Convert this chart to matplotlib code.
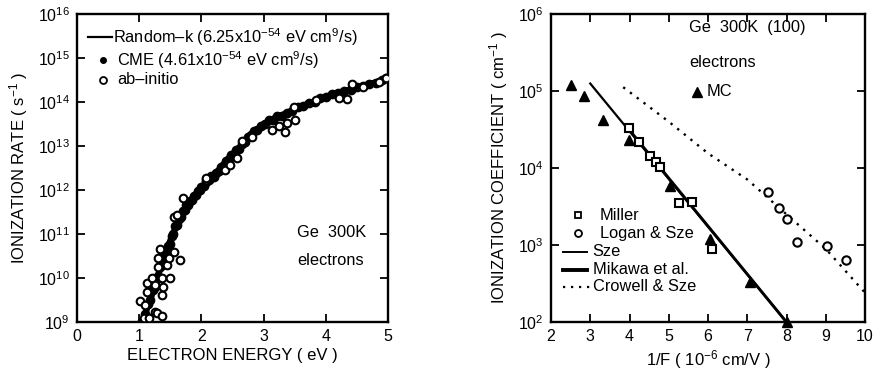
import numpy as np
import matplotlib
matplotlib.use("Agg")
import matplotlib.pyplot as plt
from matplotlib.ticker import FixedLocator, NullLocator, FuncFormatter

plt.rcParams['font.family'] = ['Liberation Sans', 'DejaVu Sans']
plt.rcParams['mathtext.fontset'] = 'custom'
plt.rcParams['mathtext.rm'] = 'Liberation Sans'
plt.rcParams['mathtext.it'] = 'Liberation Sans:italic'
plt.rcParams['mathtext.bf'] = 'Liberation Sans:bold'

# ---------------- Left panel data: ionization rate vs electron energy ----------------
randk_E = [1.05, 1.2, 1.3, 1.4, 1.5, 1.6, 1.7, 1.8, 2.0, 2.2, 2.4, 2.6, 2.8, 3.0, 3.2, 3.4, 3.6, 3.8, 4.0, 4.3, 4.6, 5.0]
randk_log = [9.0, 9.6, 10.05, 10.45, 10.85, 11.2, 11.5, 11.7, 12.05, 12.3, 12.65, 12.95, 13.25, 13.5, 13.65, 13.76, 13.9, 14.0, 14.12, 14.25, 14.37, 14.52]

cme_E = [1.05, 1.10, 1.14, 1.18, 1.22, 1.25, 1.28, 1.31, 1.34, 1.37, 1.40, 1.43, 1.46, 1.49,
         1.52, 1.55, 1.58, 1.61, 1.64, 1.67, 1.70, 1.73, 1.76, 1.79, 1.82, 1.85, 1.88, 1.91,
         1.94, 1.97, 2.00, 2.04, 2.08, 2.12, 2.16, 2.20, 2.24, 2.28, 2.32, 2.36, 2.40, 2.44,
         2.48, 2.52, 2.56, 2.60, 2.65, 2.70, 2.75, 2.80, 2.85, 2.90, 2.96, 3.02, 3.08, 3.15,
         3.22, 3.30, 3.38, 3.46, 3.55, 3.64, 3.73, 3.82, 3.91, 4.00, 4.10, 4.20, 4.30, 4.40,
         4.50, 4.60, 4.70, 4.80, 4.90, 4.97]
cme_log = [9.02, 9.18, 9.40, 9.50, 9.72, 9.80, 9.98, 10.05, 10.25, 10.30, 10.48, 10.55, 10.72, 10.78,
           10.95, 11.00, 11.18, 11.20, 11.35, 11.38, 11.52, 11.55, 11.65, 11.66, 11.76, 11.78, 11.87, 11.88,
           11.97, 11.99, 12.07, 12.10, 12.19, 12.22, 12.31, 12.30, 12.38, 12.43, 12.53, 12.57, 12.67, 12.70,
           12.79, 12.82, 12.91, 12.94, 13.05, 13.08, 13.20, 13.24, 13.33, 13.36, 13.46, 13.50, 13.58, 13.60,
           13.68, 13.69, 13.76, 13.80, 13.88, 13.91, 13.98, 14.00, 14.08, 14.11, 14.18, 14.20, 14.26, 14.28,
           14.35, 14.36, 14.42, 14.43, 14.50, 14.55]

abin_E = [1.01, 1.07, 1.09, 1.12, 1.12, 1.15, 1.20, 1.25, 1.25, 1.28, 1.30, 1.31, 1.33, 1.36, 1.36,
          1.36, 1.39, 1.44, 1.48, 1.49, 1.56, 1.56, 1.65, 1.70, 1.60, 2.07, 2.08, 2.38, 2.46, 2.57,
          2.65, 2.81, 3.13, 3.24, 3.34, 3.37, 3.49, 3.50, 3.85, 4.22, 4.34, 4.42, 4.60, 4.85, 4.97]
abin_log = [9.48, 9.08, 9.39, 9.69, 9.88, 9.08, 9.99, 9.84, 9.23, 9.20, 10.26, 10.45, 10.67, 9.99, 9.61,
            9.14, 9.80, 10.30, 10.45, 9.99, 10.60, 11.39, 10.42, 11.81, 11.43, 12.23, 12.27, 12.45, 12.57, 12.72,
            13.12, 13.20, 13.36, 13.45, 13.31, 13.52, 13.89, 13.59, 14.05, 14.08, 14.07, 14.42, 14.35, 14.45, 14.55]

left_xticks = [0, 1, 2, 3, 4, 5]
left_yexp = [9, 10, 11, 12, 13, 14, 15, 16]

# ---------------- Right panel data: ionization coefficient vs 1/F ----------------
mc_x = [2.51, 2.85, 3.33, 3.99, 5.03, 6.05, 7.07, 8.0]
mc_y = [1.2e5, 8.5e4, 4.2e4, 2.3e4, 5.9e3, 1.2e3, 3.3e2, 1.0e2]

miller_x = [3.99, 4.24, 4.52, 4.68, 4.78, 5.27, 5.58, 6.09]
miller_y = [3.3e4, 2.2e4, 1.43e4, 1.2e4, 1.02e4, 3.5e3, 3.6e3, 8.9e2]

logan_x = [7.52, 7.81, 8.0, 8.26, 9.02, 9.51]
logan_y = [4.9e3, 3.0e3, 2.15e3, 1.08e3, 9.8e2, 6.4e2]

sze_x = [3.0, 8.0]
sze_y = [1.25e5, 1.0e2]
mikawa_x = [4.0, 7.95]
mikawa_y = [3.1e4, 1.07e2]
crowell_x = [3.84, 5.0, 6.0, 7.0, 8.0, 9.0, 10.0]
crowell_y = [1.12e5, 4.0e4, 1.55e4, 7.1e3, 2.5e3, 8.9e2, 2.4e2]

right_xticks = [2, 3, 4, 5, 6, 7, 8, 9, 10]
right_yexp = [2, 3, 4, 5, 6]

# ---------------- Figure ----------------
W, H = 875, 373
fig = plt.figure(figsize=(W / 100, H / 100), dpi=100)
axL = fig.add_axes([77 / W, 1 - 322 / H, (388 - 77) / W, (322 - 14) / H])
axR = fig.add_axes([551 / W, 1 - 322 / H, (865 - 551) / W, (322 - 14) / H])

expfmt = FuncFormatter(lambda v, p: r'$10^{%d}$' % int(round(np.log10(v))))


def style(ax, xt, yexp):
    ax.set_yscale('log')
    ax.xaxis.set_major_locator(FixedLocator(xt))
    ax.yaxis.set_major_locator(FixedLocator([10.0 ** e for e in yexp]))
    ax.yaxis.set_minor_locator(NullLocator())
    ax.xaxis.set_minor_locator(NullLocator())
    ax.yaxis.set_major_formatter(expfmt)
    ax.tick_params(direction='in', length=6, width=1.3, top=True, right=True,
                   labelsize=11.5, pad=5, colors='black')
    for s in ax.spines.values():
        s.set_linewidth(1.7)


# Left panel
axL.plot(randk_E, [10.0 ** v for v in randk_log], color='black', lw=4.5, zorder=2,
         solid_capstyle='round')
axL.plot(cme_E, [10.0 ** v for v in cme_log], 'o', color='black', ms=6, zorder=3)
axL.plot(abin_E, [10.0 ** v for v in abin_log], 'o', mfc='white', mec='black', mew=1.5, ms=5.5, zorder=4)
axL.set_xlim(0, 5)
axL.set_ylim(1e9, 1e16)
style(axL, left_xticks, left_yexp)
axL.set_xlabel('ELECTRON ENERGY ( eV )', fontsize=12, labelpad=3)
axL.set_ylabel(r'IONIZATION RATE ( s$^{-1}$ )', fontsize=12, labelpad=6)

tf = dict(fontsize=11.8, transform=axL.transAxes, va='center', ha='left')
axL.plot([0.035, 0.113], [0.925, 0.925], color='black', lw=1.6, transform=axL.transAxes, clip_on=False)
axL.text(0.116, 0.925, r'Random–k (6.25x10$^{-54}$ eV cm$^{9}$/s)', **tf)
axL.plot([0.085], [0.851], 'o', color='black', ms=4, transform=axL.transAxes)
axL.text(0.129, 0.851, r'CME (4.61x10$^{-54}$ eV cm$^{9}$/s)', **tf)
axL.plot([0.085], [0.786], 'o', mfc='white', mec='black', mew=1.3, ms=5, transform=axL.transAxes)
axL.text(0.129, 0.786, 'ab–initio', **tf)
axL.text(0.707, 0.289, 'Ge  300K', **tf)
axL.text(0.707, 0.201, 'electrons', **tf)

# Right panel
axR.plot(sze_x, sze_y, color='black', lw=1.6, zorder=2)
axR.plot(mikawa_x, mikawa_y, color='black', lw=2.1, zorder=2)
axR.plot(crowell_x, crowell_y, color='black', lw=1.7, ls=(0, (1, 2.6)), zorder=2)
axR.plot(mc_x, mc_y, '^', color='black', ms=7, zorder=3, clip_on=False)
axR.plot(miller_x, miller_y, 's', mfc='white', mec='black', mew=1.5, ms=6, zorder=4)
axR.plot(logan_x, logan_y, 'o', mfc='white', mec='black', mew=1.5, ms=6, zorder=4)
axR.set_xlim(2, 10)
axR.set_ylim(1e2, 1e6)
style(axR, right_xticks, right_yexp)
axR.set_xlabel(r'1/F ( 10$^{-6}$ cm/V )', fontsize=12, labelpad=3)
axR.set_ylabel(r'IONIZATION COEFFICIENT ( cm$^{-1}$ )', fontsize=12, labelpad=6)

tr = dict(fontsize=11.8, transform=axR.transAxes, va='center', ha='left')
axR.text(0.44, 0.955, 'Ge  300K  (100)', **tr)
axR.text(0.44, 0.844, 'electrons', **tr)
axR.plot([0.465], [0.747], '^', color='black', ms=7, transform=axR.transAxes)
axR.text(0.495, 0.747, 'MC', **tr)
axR.plot([0.087], [0.347], 's', mfc='white', mec='black', mew=1.3, ms=5, transform=axR.transAxes)
axR.text(0.156, 0.347, 'Miller', **tr)
axR.plot([0.087], [0.288], 'o', mfc='white', mec='black', mew=1.3, ms=5, transform=axR.transAxes)
axR.text(0.156, 0.288, 'Logan & Sze', **tr)
axR.plot([0.038, 0.115], [0.228, 0.228], color='black', lw=1.4, transform=axR.transAxes)
axR.text(0.133, 0.228, 'Sze', **tr)
axR.plot([0.038, 0.115], [0.169, 0.169], color='black', lw=2.8, transform=axR.transAxes)
axR.text(0.133, 0.169, 'Mikawa et al.', **tr)
axR.plot([0.038, 0.125], [0.115, 0.115], color='black', lw=1.6, ls=(0, (1, 2.6)), transform=axR.transAxes)
axR.text(0.133, 0.115, 'Crowell & Sze', **tr)

fig.savefig('out.png', dpi=100)
